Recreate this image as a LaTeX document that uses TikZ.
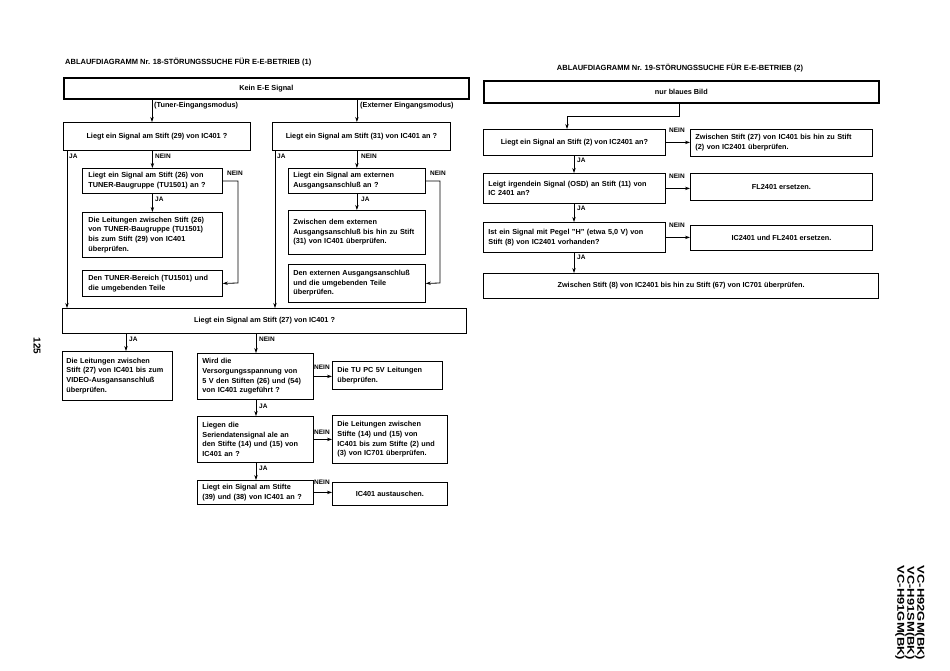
\documentclass[tikz,border=0pt]{standalone}
\usepackage{fontspec}
\setmainfont{Liberation Sans}
\usepackage{graphicx}
\usetikzlibrary{arrows.meta}
\newcommand\mybf{\fontsize{7.3}{9.6}\selectfont\bfseries}
\newcommand\mylab{\fontsize{6.5}{7}\selectfont\bfseries}
\newcommand\myhd{\fontsize{7.5}{8}\selectfont\bfseries}
\tikzset{
  bx/.style={draw, line width=0.8pt, rectangle, inner sep=0pt, anchor=north west, font=\mybf, align=center},
  lbx/.style={bx, inner xsep=5pt, align=left},
  thk/.style={line width=1.7pt},
  mid/.style={line width=1.2pt},
  arr/.style={line width=0.8pt, -{Stealth[length=5pt,width=3.4pt]}},
  lab/.style={font=\mylab, inner sep=0pt, anchor=west},
  hd/.style={font=\myhd, inner sep=0pt},
  side/.style={font=\fontsize{10}{9}\selectfont\bfseries, inner sep=0pt, rotate=-90}
}
\begin{document}
\begin{tikzpicture}[x=1pt,y=-1pt]
\fill[white] (0,0) rectangle (950,670);
\useasboundingbox (0,0) rectangle (950,670);

% ---------- left diagram ----------
\node[hd, anchor=west] (t1) at (65,62) {ABLAUFDIAGRAMM Nr. 18-STÖRUNGSSUCHE FÜR E-E-BETRIEB (1)};
\node[bx, thk, minimum width=405pt, minimum height=21pt] (kein) at (63,77) {Kein E-E Signal};

\node[bx, minimum width=187pt, minimum height=28pt] (q29) at (63,122) {Liegt ein Signal am Stift (29) von IC401 ?};
\node[bx, minimum width=178pt, minimum height=28pt] (q31) at (272,122) {Liegt ein Signal am Stift (31) von IC401 an ?};

\node[lbx, inner xsep=6pt, text width=128pt, minimum height=25pt] (q26) at (82,168) {Liegt ein Signal am Stift (26) von\\TUNER-Baugruppe (TU1501) an ?};
\node[lbx, inner xsep=6pt, text width=128pt, minimum height=45pt] (b26) at (82,212) {Die Leitungen zwischen Stift (26)\\von TUNER-Baugruppe (TU1501)\\bis zum Stift (29) von IC401\\überprüfen.};
\node[lbx, inner xsep=6pt, text width=128pt, minimum height=26pt] (btun) at (82,270) {Den TUNER-Bereich (TU1501) und\\die umgebenden Teile};

\node[lbx, text width=127pt, minimum height=25pt] (qext) at (288,168) {Liegt ein Signal am externen\\Ausgangsanschluß an ?};
\node[lbx, text width=127pt, minimum height=44pt] (bzw) at (288,210) {Zwischen dem externen\\Ausgangsanschluß bis hin zu Stift\\(31) von IC401 überprüfen.};
\node[lbx, text width=127pt, minimum height=38pt] (bext) at (288,264) {Den externen Ausgangsanschluß\\und die umgebenden Teile\\überprüfen.};

\node[bx, mid, minimum width=404pt, minimum height=25pt] (q27) at (62,308) {Liegt ein Signal am Stift (27) von IC401 ?};

\node[lbx, inner xsep=4pt, text width=102pt, minimum height=49pt] (b27) at (62,351) {Die Leitungen zwischen\\Stift (27) von IC401 bis zum\\VIDEO-Ausgansanschluß\\überprüfen.};
\node[lbx, text width=106pt, minimum height=46pt] (q5v) at (197,353) {Wird die\\Versorgungsspannung von\\5 V den Stiften (26) und (54)\\von IC401 zugeführt ?};
\node[lbx, text width=100pt, minimum height=28pt] (btu) at (332,361) {Die TU PC 5V Leitungen\\überprüfen.};
\node[lbx, text width=106pt, minimum height=46pt] (qser) at (197,416) {Liegen die\\Seriendatensignal ale an\\den Stifte (14) und (15) von\\IC401 an ?};
\node[lbx, text width=105pt, minimum height=48pt] (bser) at (332,415) {Die Leitungen zwischen\\Stifte (14) und (15) von\\IC401 bis zum Stifte (2) und\\(3) von IC701 überprüfen.};
\node[lbx, text width=106pt, minimum height=24pt] (q39) at (197,480) {Liegt ein Signal am Stifte\\(39) und (38) von IC401 an ?};
\node[bx, minimum width=115pt, minimum height=23pt] (bic) at (332,482) {IC401 austauschen.};

% helper coordinates
\coordinate (xa) at (152,0);
\coordinate (xl) at (67,0);
\coordinate (xr) at (275,0);
\coordinate (xn1) at (238,283);
\coordinate (xn2) at (440,283);
\coordinate (xj27) at (126,0);
\coordinate (xn27) at (256,0);

\draw[arr] (kein.south -| xa) -- (q29.north -| xa);
\draw[arr] (kein.south -| qext.north) -- (q31.north -| qext.north);
\node[lab, font=\fontsize{7.3}{8}\selectfont\bfseries] (ltun) at (154,106) {(Tuner-Eingangsmodus)};
\node[lab, font=\fontsize{7.3}{8}\selectfont\bfseries] (lext) at (360,106) {(Externer Eingangsmodus)};

\draw[arr] (q29.south -| xl) -- (q27.north -| xl);
\node[lab] (j1) at (69,156) {JA};
\draw[arr] (q29.south -| q26.north) -- (q26.north);
\node[lab] (n1) at (155,156) {NEIN};
\draw[arr] (q26.south) -- (b26.north);
\node[lab] (j2) at (155,199) {JA};
\draw[arr] (q26.east) -| (xn1) -- (btun.east);
\node[lab] (n2) at (227,173) {NEIN};

\draw[arr] (q31.south -| xr) -- (q27.north -| xr);
\node[lab] (j3) at (277,156) {JA};
\draw[arr] (q31.south -| qext.north) -- (qext.north);
\node[lab] (n3) at (361,156) {NEIN};
\draw[arr] (qext.south) -- (bzw.north);
\node[lab] (j4) at (361,199) {JA};
\draw[arr] (qext.east) -| (xn2) -- (bext.east);
\node[lab] (n4) at (430,173) {NEIN};

\draw[arr] (q27.south -| xj27) -- (b27.north -| xj27);
\node[lab] (j5) at (129,339) {JA};
\draw[arr] (q27.south -| xn27) -- (q5v.north -| xn27);
\node[lab] (n5) at (259,339) {NEIN};
\draw[arr] (q5v.east) -- (btu.west |- q5v.east);
\node[lab] (n6) at (314,367) {NEIN};
\draw[arr] (q5v.south -| xn27) -- (qser.north -| xn27);
\node[lab] (j6) at (259,406) {JA};
\draw[arr] (qser.east) -- (bser.west |- qser.east);
\node[lab] (n7) at (314,432) {NEIN};
\draw[arr] (qser.south -| xn27) -- (q39.north -| xn27);
\node[lab] (j7) at (259,468) {JA};
\draw[arr] (q39.east) -- (bic.west |- q39.east);
\node[lab] (n8) at (314,482) {NEIN};

% ---------- right diagram ----------
\node[hd] (t2) at (680,68) {ABLAUFDIAGRAMM Nr. 19-STÖRUNGSSUCHE FÜR E-E-BETRIEB (2)};
\node[bx, thk, minimum width=395pt, minimum height=22pt] (blau) at (483,80) {nur blaues Bild};
\node[bx, minimum width=182pt, minimum height=26pt] (q2) at (483,129) {Liegt ein Signal an Stift (2) von IC2401 an?};
\node[lbx, text width=172pt, minimum height=27pt] (b27r) at (690,129) {Zwischen Stift (27) von IC401 bis hin zu Stift\\(2) von IC2401 überprüfen.};
\node[lbx, text width=172pt, minimum height=30pt] (qosd) at (483,173) {Leigt irgendein Signal (OSD) an Stift (11) von\\IC 2401 an?};
\node[bx, minimum width=182pt, minimum height=27pt] (bfl) at (690,173) {FL2401 ersetzen.};
\node[lbx, text width=172pt, minimum height=30pt] (qh) at (483,222) {Ist ein Signal mit Pegel "H" (etwa 5,0 V) von\\Stift (8) von IC2401 vorhanden?};
\node[bx, minimum width=182pt, minimum height=25pt] (bicfl) at (690,225) {IC2401 und FL2401 ersetzen.};
\node[bx, mid, minimum width=395pt, minimum height=25pt] (bfin) at (483,273) {Zwischen Stift (8) von IC2401 bis hin zu Stift (67) von IC701 überprüfen.};

\coordinate (bend) at (679,116);
\coordinate (xj) at (574,0);
\coordinate (xq) at (567,0);
\draw[arr] (blau.south -| bend) -- (bend) -| (q2.north -| xq);
\draw[arr] (q2.east) -- (b27r.west |- q2.east);
\node[lab] (rn1) at (669,130) {NEIN};
\draw[arr] (q2.south -| xj) -- (qosd.north -| xj);
\node[lab] (rj1) at (577,160) {JA};
\draw[arr] (qosd.east) -- (bfl.west |- qosd.east);
\node[lab] (rn2) at (669,176) {NEIN};
\draw[arr] (qosd.south -| xj) -- (qh.north -| xj);
\node[lab] (rj2) at (577,208) {JA};
\draw[arr] (qh.east) -- (bicfl.west |- qh.east);
\node[lab] (rn3) at (669,225) {NEIN};
\draw[arr] (qh.south -| xj) -- (bfin.north -| xj);
\node[lab] (rj3) at (577,257) {JA};

% ---------- margin texts ----------
\node[side] (pg) at (37,346) {125};
\node[side] (m1) at (900,613) {\scalebox{1.3}[1]{VC-H91GM(BK)}};
\node[side] (m2) at (910,613) {\scalebox{1.3}[1]{VC-H91SM(BK)}};
\node[side] (m3) at (920,613) {\scalebox{1.3}[1]{VC-H92GM(BK)}};
\end{tikzpicture}
\end{document}
